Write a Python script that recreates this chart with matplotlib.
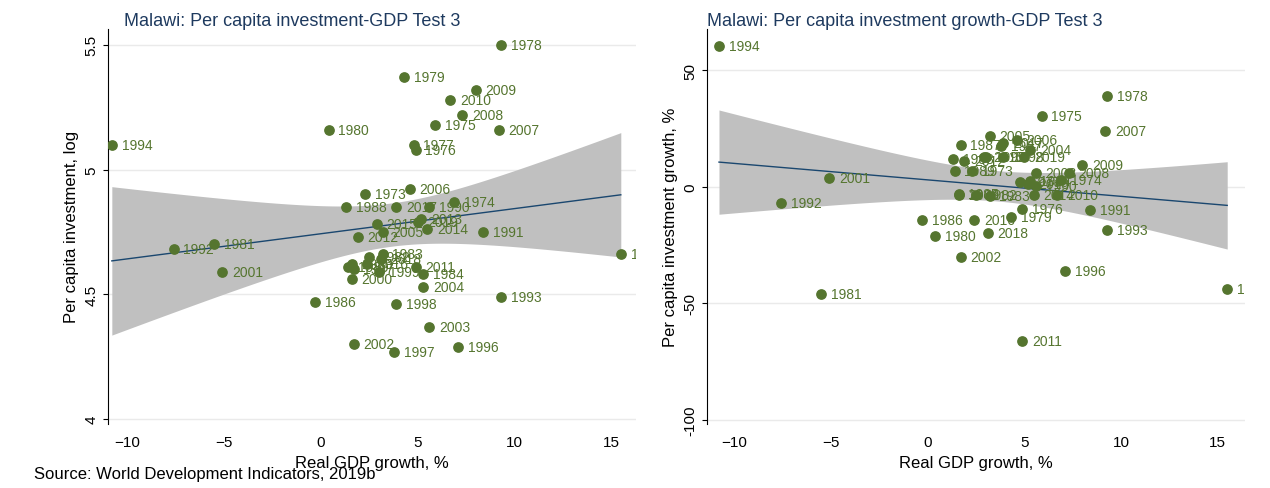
import numpy as np
import matplotlib.pyplot as plt

plt.rcParams['font.family'] = ['Liberation Sans', 'DejaVu Sans']

# year, real GDP growth %, log per capita investment, per capita investment growth %
years = [1973, 1974, 1975, 1976, 1977, 1978, 1979, 1980, 1981, 1982, 1983, 1984, 1985,
         1986, 1987, 1988, 1989, 1990, 1991, 1992, 1993, 1994, 1995, 1996, 1997, 1998,
         1999, 2000, 2001, 2002, 2003, 2004, 2005, 2006, 2007, 2008, 2009, 2010, 2011,
         2012, 2013, 2014, 2015, 2016, 2017, 2018, 2019]
gdp = [2.3, 6.9, 5.9, 4.9, 4.8, 9.3, 4.3, 0.4, -5.5, 2.5, 3.2, 5.3, 1.6,
       -0.3, 1.7, 1.3, 1.4, 5.6, 8.4, -7.6, 9.3, -10.8, 15.5, 7.1, 3.8, 3.9,
       3.0, 1.6, -5.1, 1.7, 5.6, 5.3, 3.2, 4.6, 9.2, 7.3, 8.0, 6.7, 4.9,
       1.9, 5.2, 5.5, 2.9, 2.4, 3.9, 3.1, 5.0]
loginv = [4.90, 4.87, 5.18, 5.08, 5.10, 5.50, 5.37, 5.16, 4.70, 4.65, 4.66, 4.58, 4.62,
          4.47, 4.60, 4.85, 4.61, 4.85, 4.75, 4.68, 4.49, 5.10, 4.66, 4.29, 4.27, 4.46,
          4.59, 4.56, 4.59, 4.30, 4.37, 4.53, 4.75, 4.92, 5.16, 5.22, 5.32, 5.28, 4.61,
          4.73, 4.80, 4.76, 4.78, 4.62, 4.85, 4.64, 4.79]
invgr = [7.0, 3.0, 30.5, -9.5, 2.0, 39.0, -13.0, -21.0, -46.0, -3.5, -4.0, 2.5, -3.0,
         -14.0, 18.0, 12.0, 7.0, 0.5, -10.0, -7.0, -18.5, 60.5, -44.0, -36.0, 17.5, 13.0,
         13.0, -3.5, 4.0, -30.0, 6.0, 16.0, 22.0, 20.0, 24.0, 6.0, 9.5, -3.5, -66.0,
         11.0, 1.3, -3.5, 13.0, -14.0, 19.0, -20.0, 13.0]

green = '#55752f'
navy = '#1a476f'
title_col = '#1e3a5f'

fig = plt.figure(figsize=(12.7, 4.89), dpi=100)
fig.patch.set_facecolor('white')


def panel(ax, x, y, title, ylabel, yticks, xlim, ylim, tx):
    x = np.array(x)
    y = np.array(y)
    b, a = np.polyfit(x, y, 1)
    n = len(x)
    res = y - (a + b * x)
    s = np.sqrt(np.sum(res ** 2) / (n - 2))
    xs = np.linspace(x.min(), x.max(), 200)
    se = s * np.sqrt(1 / n + (xs - x.mean()) ** 2 / np.sum((x - x.mean()) ** 2))
    fit = a + b * xs
    ax.fill_between(xs, fit - 2.01 * se, fit + 2.01 * se, color='#c0c0c0', lw=0, zorder=1)
    ax.plot(xs, fit, color=navy, lw=1, zorder=2)
    ax.scatter(x, y, s=45, color=green, zorder=3)
    for yr, xi, yi in zip(years, x, y):
        ax.annotate(str(yr), (xi, yi), xytext=(7, 0), textcoords='offset points',
                    va='center', fontsize=10, color=green, zorder=4, clip_on=True)
    ax.set_xlim(xlim)
    ax.set_ylim(ylim)
    ax.set_xticks([-10, -5, 0, 5, 10, 15])
    ax.set_yticks(yticks)
    ax.set_yticklabels([str(t) for t in yticks], rotation=90, va='center')
    ax.grid(axis='y', color='#eaeaea', lw=1)
    ax.set_axisbelow(True)
    for sp in ['top', 'right', 'bottom']:
        ax.spines[sp].set_visible(False)
    ax.tick_params(axis='x', length=0, labelsize=11, pad=8)
    ax.tick_params(axis='y', labelsize=11)
    ax.set_xlabel('Real GDP growth, %', fontsize=12)
    ax.set_ylabel(ylabel, fontsize=12)
    ax.set_title(title, fontsize=13, color=title_col, loc='left', x=tx, pad=3)


ax1 = fig.add_axes([0.085, 0.131, 0.416, 0.808])
panel(ax1, gdp, loginv, 'Malawi: Per capita investment-GDP Test 3',
      'Per capita investment, log', [4, 4.5, 5, 5.5], (-11, 16.3), (3.98, 5.564), 0.03)
ax2 = fig.add_axes([0.557, 0.131, 0.423, 0.808])
panel(ax2, gdp, invgr, 'Malawi: Per capita investment growth-GDP Test 3',
      'Per capita investment growth, %', [-100, -50, 0, 50], (-11.4, 16.4), (-101.7, 67.8), 0.0)

fig.text(0.027, 0.02, 'Source: World Development Indicators, 2019b', fontsize=12)

fig.savefig('out.png', dpi=100)
